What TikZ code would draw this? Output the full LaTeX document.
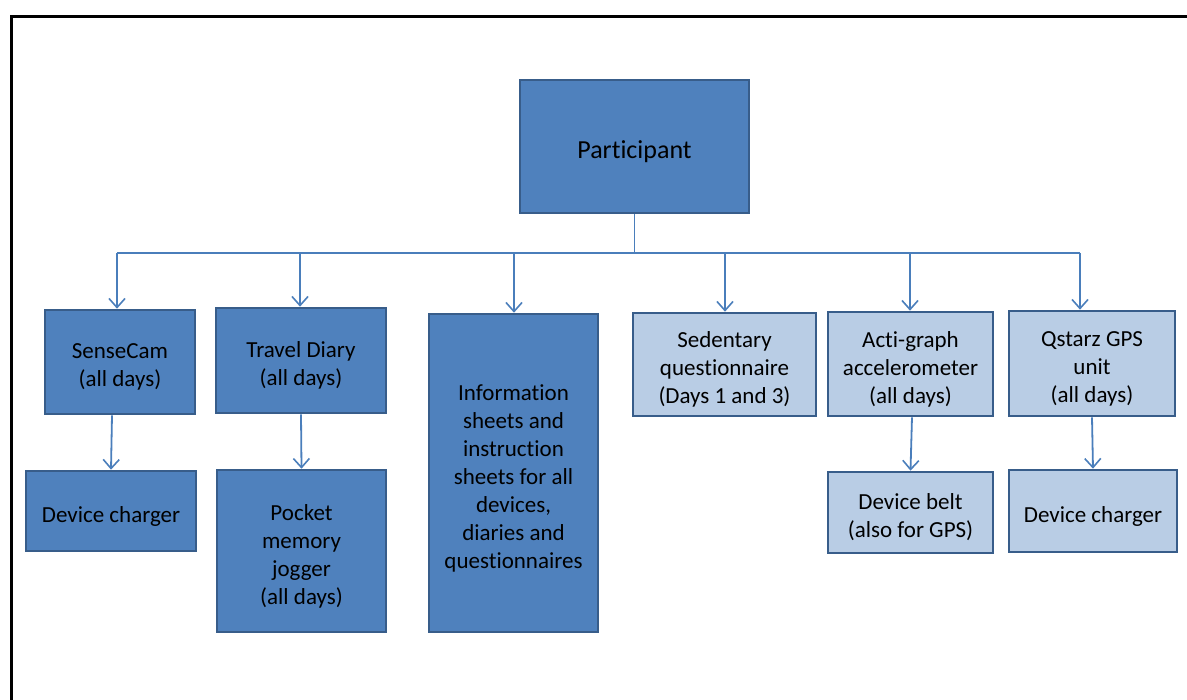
\documentclass[tikz,border=0pt]{standalone}
\usepackage{fontspec}
\setmainfont{Carlito}[Ligatures={NoCommon}]
\usetikzlibrary{arrows.meta}
\definecolor{darkfill}{HTML}{4F81BD}
\definecolor{lightfill}{HTML}{B9CDE5}
\definecolor{boxline}{HTML}{385D8A}
\definecolor{connline}{HTML}{4A7EBB}
\tikzset{
  basebox/.style={draw=boxline, line width=2.6pt, rectangle, inner sep=0pt},
  darkbox/.style={basebox, fill=darkfill},
  lightbox/.style={basebox, fill=lightfill},
  boxtext/.style={align=center, text=black, inner sep=0pt, yshift=-5pt, font=\fontsize{23}{28}\selectfont},
  conn/.style={draw=connline, line width=1.8pt},
  arr/.style={conn, -{Straight Barb[length=9pt,width=16pt,line width=1.6pt]}},
}
\begin{document}
\begin{tikzpicture}[x=1pt,y=-1pt]
\useasboundingbox (0,0) rectangle (1187,700);
% frame
\draw[line width=3.5pt, black] (11.5,702) -- (11.5,16.5) -- (1190,16.5);
% boxes
\node[darkbox, minimum width=229pt, minimum height=133pt] (part) at (634.5,146.5) {};
\node[darkbox, minimum width=150pt, minimum height=104pt] (sc) at (120,362) {};
\node[darkbox, minimum width=170pt, minimum height=105pt] (td) at (301,360.5) {};
\node[darkbox, minimum width=169pt, minimum height=318pt] (info) at (513.5,473) {};
\node[lightbox, minimum width=183pt, minimum height=103pt] (sed) at (724.5,364.5) {};
\node[lightbox, minimum width=165pt, minimum height=104pt] (acti) at (910.5,364) {};
\node[lightbox, minimum width=166pt, minimum height=105pt] (qs) at (1092,363.5) {};
\node[darkbox, minimum width=170pt, minimum height=80pt] (dc1) at (111,511) {};
\node[darkbox, minimum width=169pt, minimum height=162pt] (pmj) at (301.5,551) {};
\node[lightbox, minimum width=165pt, minimum height=81pt] (belt) at (910.5,512.5) {};
\node[lightbox, minimum width=168pt, minimum height=82pt] (dc2) at (1093,511) {};
% texts
\node[boxtext, font=\fontsize{26}{30}\selectfont] (part-t) at (part.center) {Participant};
\node[boxtext] (sc-t) at (sc.center) {SenseCam\\(all days)};
\node[boxtext] (td-t) at (td.center) {Travel Diary\\(all days)};
\node[boxtext] (info-t) at (info.center) {Information\\sheets and\\instruction\\sheets for all\\devices,\\diaries and\\questionnaires};
\node[boxtext] (sed-t) at (sed.center) {Sedentary\\questionnaire\\(Days 1 and 3)};
\node[boxtext] (acti-t) at (acti.center) {Acti-graph\\accelerometer\\(all days)};
\node[boxtext] (qs-t) at (qs.center) {Qstarz GPS\\unit\\(all days)};
\node[boxtext] (dc1-t) at (dc1.center) {Device charger};
\node[boxtext] (pmj-t) at (pmj.center) {Pocket\\memory\\jogger\\(all days)};
\node[boxtext] (belt-t) at (belt.center) {Device belt\\(also for GPS)};
\node[boxtext] (dc2-t) at (dc2.center) {Device charger};
% bus
\coordinate (bl) at (117,253);
\coordinate (br) at (1080,253);
\coordinate (b1) at (117,253);
\coordinate (b2) at (300,253);
\coordinate (b3) at (514,253);
\coordinate (b4) at (725,253);
\coordinate (b5) at (910,253);
\coordinate (b6) at (1080,253);
\draw[conn] (part.south) -- (part.south |- bl);
\draw[conn] (bl) -- (br);
\draw[arr] (b1) -- (b1 |- sc.north);
\draw[arr] (b2) -- (b2 |- td.north);
\draw[arr] (b3) -- (b3 |- info.north);
\draw[arr] (b4) -- (b4 |- sed.north);
\draw[arr] (b5) -- (b5 |- acti.north);
\draw[arr] (b6) -- (b6 |- qs.north);
% lower arrows
\draw[arr] ([xshift=-8pt]sc.south) -- (dc1.north);
\draw[arr] (td.south) -- (pmj.north);
\draw[arr] ([xshift=1.5pt]acti.south) -- (belt.north);
\draw[arr] (qs.south) -- (dc2.north);
\end{tikzpicture}
\end{document}
